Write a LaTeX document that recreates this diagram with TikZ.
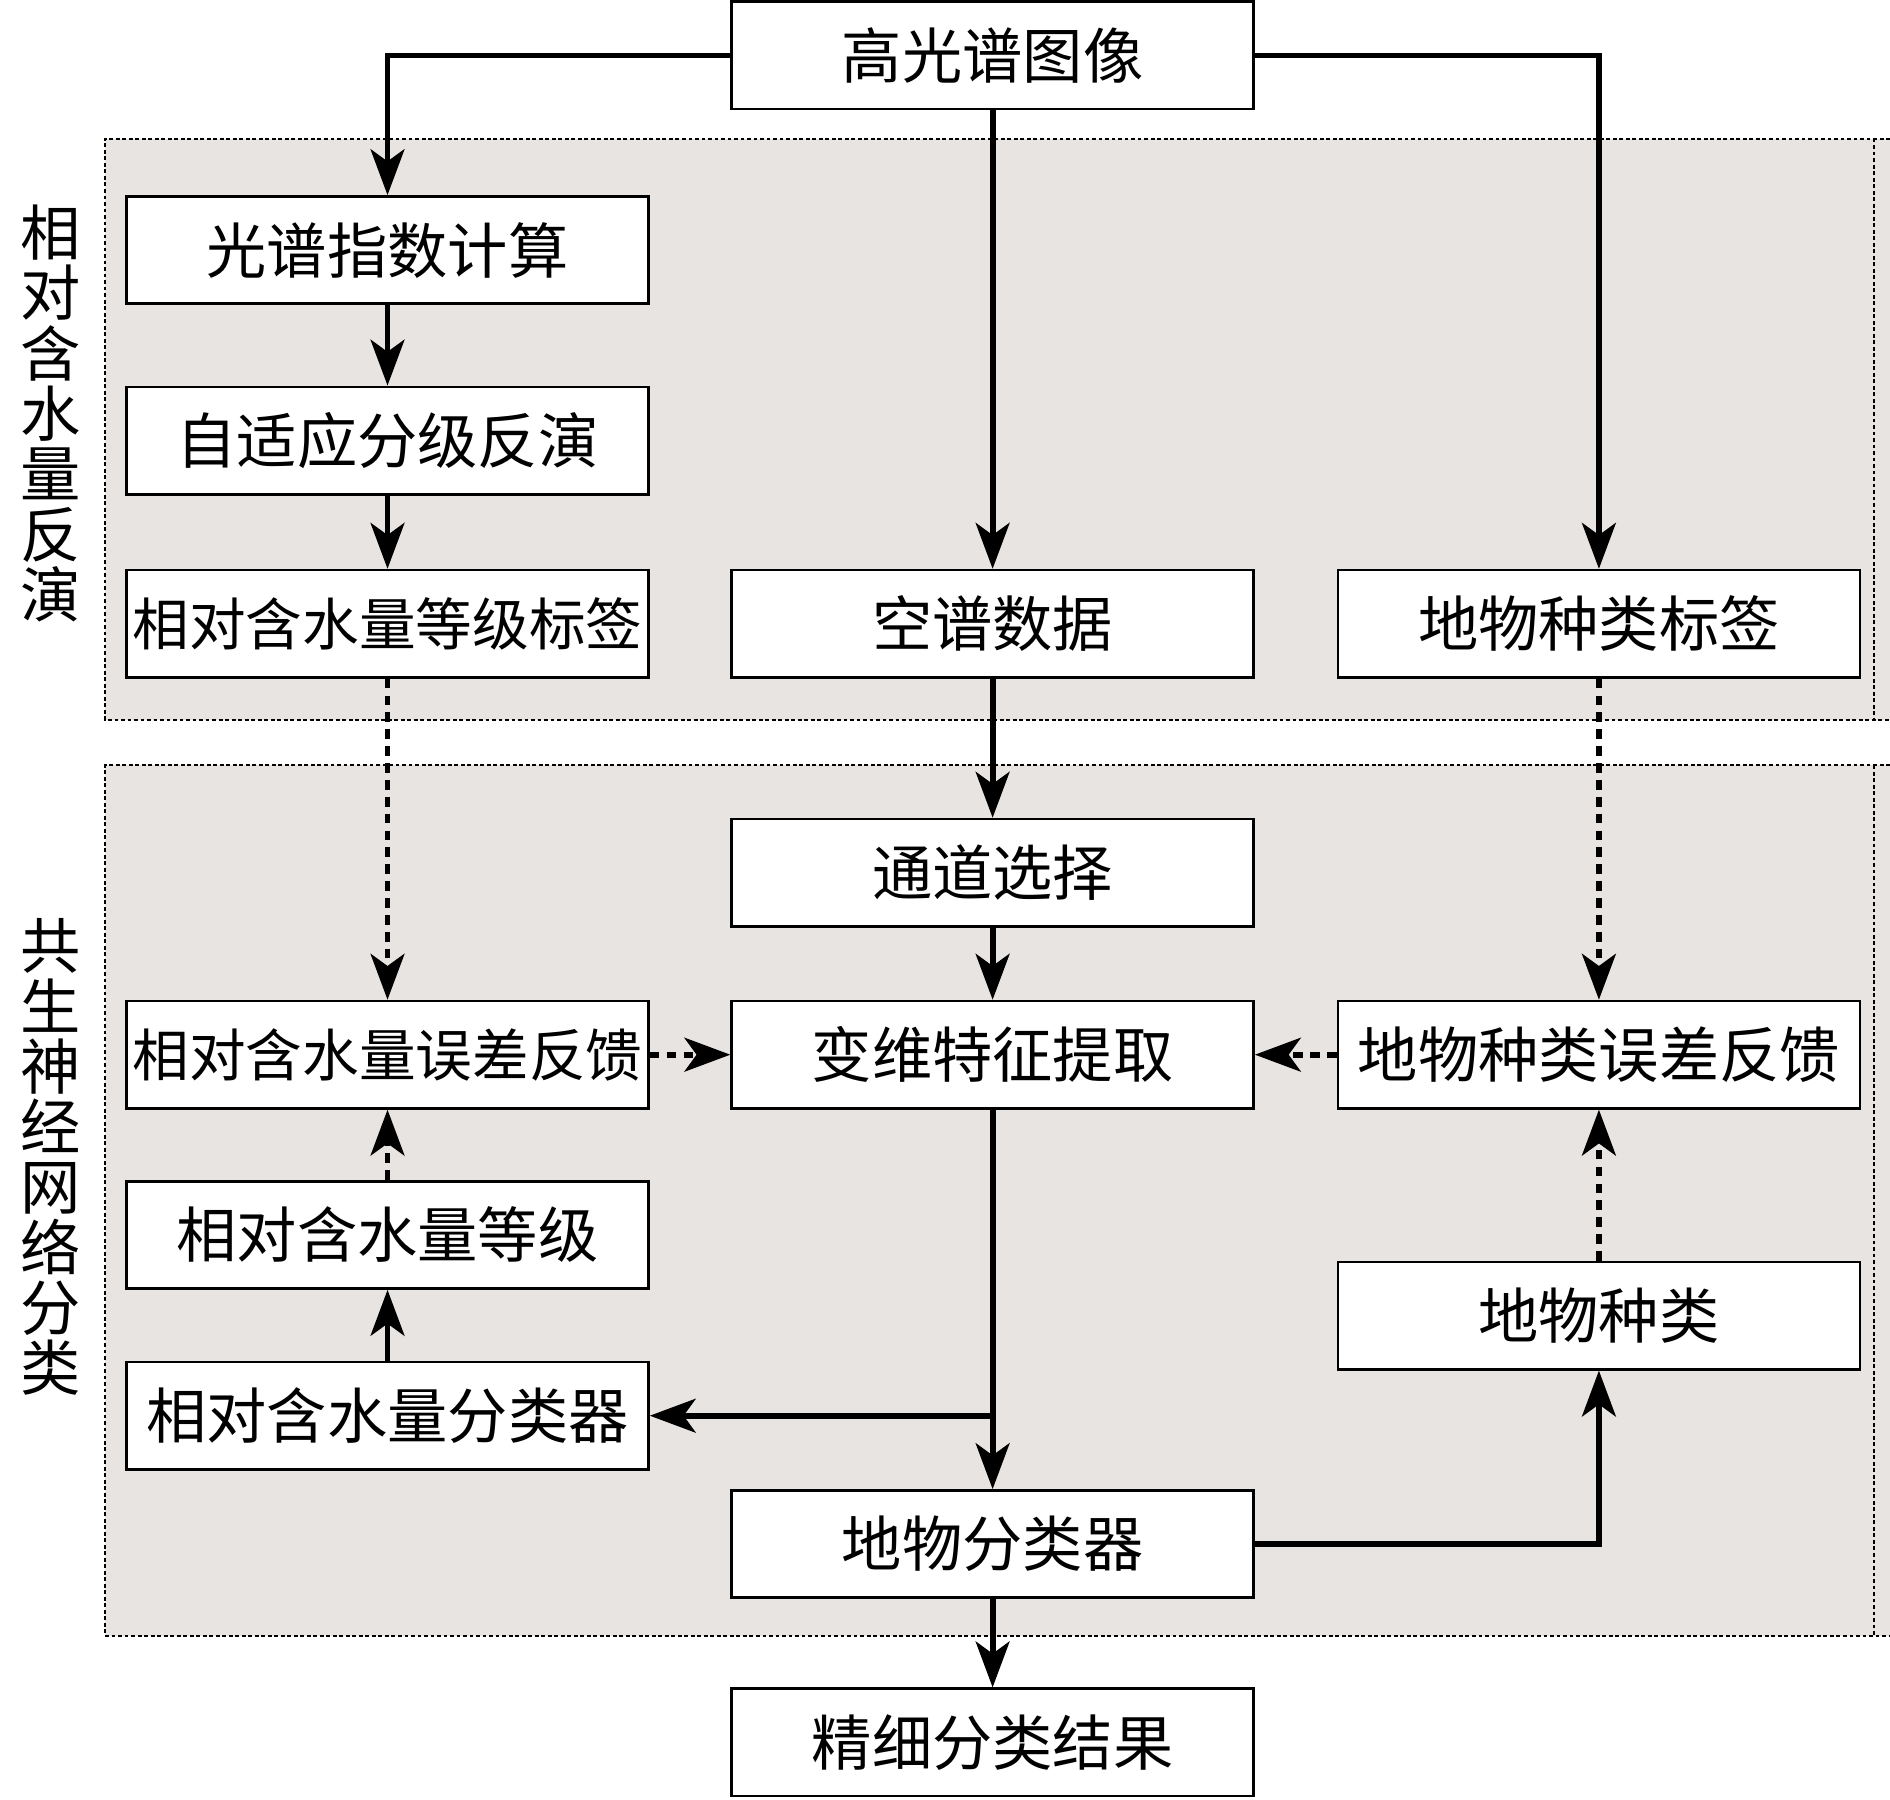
\documentclass[tikz,border=0pt]{standalone}
\usepackage{fontspec}
\newfontfamily\cjk{Noto Sans CJK SC}
\usetikzlibrary{arrows.meta}
\definecolor{regionfill}{RGB}{232,228,225}
\tikzset{
  box/.style={draw, line width=1.1pt, fill=white, minimum width=216.5pt, minimum height=44.5pt, inner sep=0pt, font=\cjk\fontsize{25}{25}\selectfont},
  boxlong/.style={box, font=\cjk\fontsize{23.5}{23.5}\selectfont},
  conn/.style={line width=2.4pt, -{Stealth[length=19pt, width=14pt, inset=5pt]}},
  fb/.style={line width=2.4pt, dash pattern=on 4pt off 3pt, -{Stealth[length=19pt, width=14pt, inset=5pt]}},
  region/.style={fill=regionfill},
  regionline/.style={line width=0.8pt, dash pattern=on 1.6pt off 1.1pt},
  sidelabel/.style={align=center, inner sep=0pt, font=\cjk\fontsize{25}{25}\selectfont}
}
\begin{document}
\begin{tikzpicture}[x=0.5pt,y=-0.5pt]
\useasboundingbox (0,0) rectangle (1568,1493);
% regions
\fill[region] (87,115) rectangle (1568,597);
\fill[region] (87,635) rectangle (1568,1357);
\draw[regionline] (1568,115) -- (87,115) -- (87,597) -- (1568,597);
\draw[regionline] (1555,115) -- (1555,597);
\draw[regionline] (1568,635) -- (87,635) -- (87,1357) -- (1568,1357);
\draw[regionline] (1555,635) -- (1555,1357);
% side labels
\node[sidelabel] (lab1) at (42,343) {相\\对\\含\\水\\量\\反\\演};
\node[sidelabel] (lab2) at (42,960) {共\\生\\神\\经\\网\\络\\分\\类};
% boxes
\node[box] (top) at (823.5,46) {高光谱图像};
\node[box] (L1) at (321.5,207.5) {光谱指数计算};
\node[box] (L2) at (321.5,365.5) {自适应分级反演};
\node[boxlong] (L3) at (321.5,517.5) {相对含水量等级标签};
\node[boxlong] (L4) at (321.5,875) {相对含水量误差反馈};
\node[box] (L5) at (321.5,1024.5) {相对含水量等级};
\node[box] (L6) at (321.5,1174.5) {相对含水量分类器};
\node[box] (M1) at (823.5,517.5) {空谱数据};
\node[box] (M2) at (823.5,724) {通道选择};
\node[box] (M3) at (823.5,875) {变维特征提取};
\node[box] (M4) at (823.5,1281) {地物分类器};
\node[box] (M5) at (823.5,1445.5) {精细分类结果};
\node[box] (R1) at (1326.5,517.5) {地物种类标签};
\node[box] (R2) at (1326.5,875) {地物种类误差反馈};
\node[box] (R3) at (1326.5,1091.5) {地物种类};
% solid connectors
\draw[conn] (top.west) -| (L1.north);
\draw[conn] (top.east) -| (R1.north);
\draw[conn] (top.south) -- (M1.north);
\draw[conn] (L1.south) -- (L2.north);
\draw[conn] (L2.south) -- (L3.north);
\draw[conn] (M1.south) -- (M2.north);
\draw[conn] (M2.south) -- (M3.north);
\draw[conn] (M3.south) -- (M4.north);
\coordinate (split) at (M3.south |- L6.east);
\draw[conn] (split) -- (L6.east);
\draw[conn] (L6.north) -- (L5.south);
\draw[conn] (M4.east) -| (R3.south);
\draw[conn] (M4.south) -- (M5.north);
% feedback connectors
\draw[fb] (L3.south) -- (L4.north);
\draw[fb] (R1.south) -- (R2.north);
\draw[fb] (L5.north) -- (L4.south);
\draw[fb] (R3.north) -- (R2.south);
\draw[fb] (L4.east) -- (M3.west);
\draw[fb] (R2.west) -- (M3.east);
\end{tikzpicture}
\end{document}
